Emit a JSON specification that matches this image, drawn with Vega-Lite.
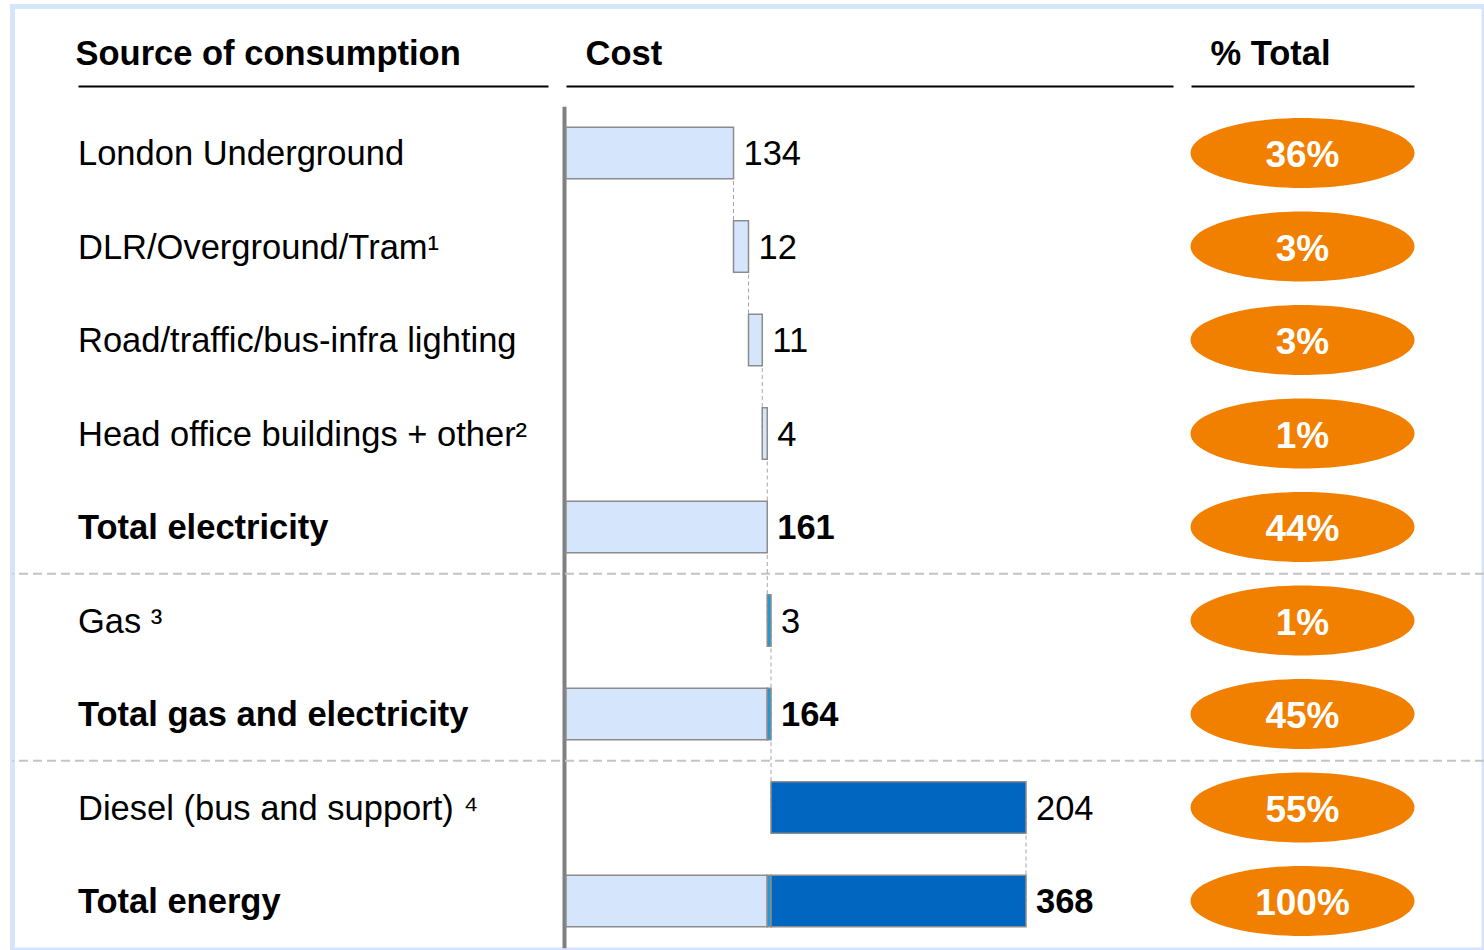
{
  "$schema": "https://vega.github.io/schema/vega-lite/v6.json",
  "width": 1471.5,
  "height": 943.5,
  "autosize": {"type": "none"},
  "padding": {"left": 12.5, "top": 6.5, "right": 0, "bottom": 0},
  "background": "white",
  "config": {
    "font": "Liberation Sans",
    "view": {"stroke": "#d5e5fb", "strokeWidth": 5},
    "axisY": {"domainColor": "#808080", "domainWidth": 4, "ticks": false, "labels": false, "grid": false, "offset": -551.5},
    "axisX": {"domainColor": "#000000", "domainWidth": 2, "ticks": false, "labels": false, "grid": false, "offset": -79.5,
      "titleFontSize": 34.5, "titleFontWeight": "bold", "titleColor": "#000000", "titleFont": "Liberation Sans",
      "titleAnchor": "start", "titleAlign": "left", "titleBaseline": "alphabetic", "titlePadding": 22}
  },
  "datasets": {
    "rows": [
      {"item": "London Underground", "cost": 134, "end": 134, "pct": "36%", "total": false, "sep": false},
      {"item": "DLR/Overground/Tram¹", "cost": 12, "end": 146, "pct": "3%", "total": false, "sep": false},
      {"item": "Road/traffic/bus-infra lighting", "cost": 11, "end": 157, "pct": "3%", "total": false, "sep": false},
      {"item": "Head office buildings + other²", "cost": 4, "end": 161, "pct": "1%", "total": false, "sep": false},
      {"item": "Total electricity", "cost": 161, "end": 161, "pct": "44%", "total": true, "sep": true},
      {"item": "Gas ³", "cost": 3, "end": 164, "pct": "1%", "total": false, "sep": false},
      {"item": "Total gas and electricity", "cost": 164, "end": 164, "pct": "45%", "total": true, "sep": true},
      {"item": "Diesel (bus and support) ⁴", "cost": 204, "end": 368, "pct": "55%", "total": false, "sep": false},
      {"item": "Total energy", "cost": 368, "end": 368, "pct": "100%", "total": true, "sep": false}
    ],
    "segments": [
      {"item": "London Underground", "start": 0, "stop": 134, "fuel": "Electricity"},
      {"item": "DLR/Overground/Tram¹", "start": 134, "stop": 146, "fuel": "Electricity"},
      {"item": "Road/traffic/bus-infra lighting", "start": 146, "stop": 157, "fuel": "Electricity"},
      {"item": "Head office buildings + other²", "start": 157, "stop": 161, "fuel": "Electricity"},
      {"item": "Total electricity", "start": 0, "stop": 161, "fuel": "Electricity"},
      {"item": "Gas ³", "start": 161, "stop": 164, "fuel": "Gas"},
      {"item": "Total gas and electricity", "start": 0, "stop": 161, "fuel": "Electricity"},
      {"item": "Total gas and electricity", "start": 161, "stop": 164, "fuel": "Gas"},
      {"item": "Diesel (bus and support) ⁴", "start": 164, "stop": 368, "fuel": "Diesel"},
      {"item": "Total energy", "start": 0, "stop": 161, "fuel": "Electricity"},
      {"item": "Total energy", "start": 161, "stop": 164, "fuel": "Gas"},
      {"item": "Total energy", "start": 164, "stop": 368, "fuel": "Diesel"}
    ],
    "connectors": [
      {"from": "London Underground", "to": "DLR/Overground/Tram¹", "at": 134},
      {"from": "DLR/Overground/Tram¹", "to": "Road/traffic/bus-infra lighting", "at": 146},
      {"from": "Road/traffic/bus-infra lighting", "to": "Head office buildings + other²", "at": 157},
      {"from": "Head office buildings + other²", "to": "Total electricity", "at": 161},
      {"from": "Total electricity", "to": "Gas ³", "at": 161},
      {"from": "Gas ³", "to": "Total gas and electricity", "at": 164},
      {"from": "Total gas and electricity", "to": "Diesel (bus and support) ⁴", "at": 164},
      {"from": "Diesel (bus and support) ⁴", "to": "Total energy", "at": 368}
    ]
  },
  "resolve": {"scale": {"x": "independent"}},
  "layer": [
    {
      "data": {"name": "rows"},
      "transform": [{"filter": "datum.sep"}],
      "mark": {"type": "rule", "color": "#c4c4c4", "strokeWidth": 2, "strokeDash": [9, 5]},
      "encoding": {
        "y": {"field": "item", "type": "nominal", "bandPosition": 1, "title": null,
          "scale": {"domain": ["London Underground", "DLR/Overground/Tram¹", "Road/traffic/bus-infra lighting", "Head office buildings + other²", "Total electricity", "Gas ³", "Total gas and electricity", "Diesel (bus and support) ⁴", "Total energy"], "range": [99.75, 941.25], "paddingInner": 0, "paddingOuter": 0}}
      }
    },
    {
      "data": {"name": "rows"},
      "transform": [{"filter": "!datum.total"}],
      "mark": {"type": "text", "align": "left", "baseline": "middle", "fontSize": 34.5, "dy": 2, "color": "#000000"},
      "encoding": {
        "x": {"datum": 0, "type": "quantitative", "scale": {"domain": [0, 1], "range": [65.5, 535.5], "nice": false, "zero": false},
          "axis": {"orient": "top", "title": "Source of consumption", "titleX": 62.5}},
        "y": {"field": "item", "type": "nominal", "title": null},
        "text": {"field": "item"}
      }
    },
    {
      "data": {"name": "rows"},
      "transform": [{"filter": "datum.total"}],
      "mark": {"type": "text", "align": "left", "baseline": "middle", "fontSize": 34.5, "dy": 2, "fontWeight": "bold", "color": "#000000"},
      "encoding": {
        "x": {"datum": 0, "type": "quantitative", "scale": {"domain": [0, 1], "range": [65.5, 535.5], "nice": false, "zero": false}, "axis": null},
        "y": {"field": "item", "type": "nominal", "title": null},
        "text": {"field": "item"}
      }
    },
    {
      "data": {"name": "connectors"},
      "mark": {"type": "rule", "color": "#a6a6a6", "strokeWidth": 1, "strokeDash": [4, 3]},
      "encoding": {
        "x": {"field": "at", "type": "quantitative", "scale": {"domain": [0, 485.6], "range": [553.5, 1160.5], "nice": false, "zero": false}, "axis": null},
        "y": {"field": "from", "type": "nominal", "title": null},
        "y2": {"field": "to"}
      }
    },
    {
      "data": {"name": "segments"},
      "mark": {"type": "bar", "height": {"band": 0.55}, "stroke": "#8c8c8c", "strokeWidth": 1.5},
      "encoding": {
        "x": {"field": "start", "type": "quantitative", "scale": {"domain": [0, 485.6], "range": [553.5, 1160.5], "nice": false, "zero": false},
          "axis": {"orient": "top", "title": "Cost", "titleX": 572.5}},
        "x2": {"field": "stop"},
        "y": {"field": "item", "type": "nominal", "title": null},
        "fill": {"field": "fuel", "type": "nominal", "legend": null,
          "scale": {"domain": ["Electricity", "Gas", "Diesel"], "range": ["#d5e6fc", "#1e9bd7", "#0066c0"]}}
      }
    },
    {
      "data": {"name": "rows"},
      "transform": [{"filter": "!datum.total"}],
      "mark": {"type": "text", "align": "left", "baseline": "middle", "fontSize": 34.5, "dx": 10, "dy": 2, "color": "#000000"},
      "encoding": {
        "x": {"field": "end", "type": "quantitative", "scale": {"domain": [0, 485.6], "range": [553.5, 1160.5], "nice": false, "zero": false}, "axis": null},
        "y": {"field": "item", "type": "nominal", "title": null},
        "text": {"field": "cost"}
      }
    },
    {
      "data": {"name": "rows"},
      "transform": [{"filter": "datum.total"}],
      "mark": {"type": "text", "align": "left", "baseline": "middle", "fontSize": 34.5, "fontWeight": "bold", "dx": 10, "dy": 2, "color": "#000000"},
      "encoding": {
        "x": {"field": "end", "type": "quantitative", "scale": {"domain": [0, 485.6], "range": [553.5, 1160.5], "nice": false, "zero": false}, "axis": null},
        "y": {"field": "item", "type": "nominal", "title": null},
        "text": {"field": "cost"}
      }
    },
    {
      "data": {"name": "rows"},
      "mark": {"type": "point", "filled": true, "opacity": 1, "color": "#f28000", "strokeWidth": 0, "size": 50176,
        "shape": "M-1,0A1,0.3125,0,1,1,1,0A1,0.3125,0,1,1,-1,0Z"},
      "encoding": {
        "x": {"datum": 0.5, "type": "quantitative", "scale": {"domain": [0, 1], "range": [1178.5, 1401.5], "nice": false, "zero": false},
          "axis": {"orient": "top", "title": "% Total", "titleX": 1197.5}},
        "y": {"field": "item", "type": "nominal", "title": null}
      }
    },
    {
      "data": {"name": "rows"},
      "mark": {"type": "text", "align": "center", "baseline": "middle", "fontSize": 37, "fontWeight": "bold", "dy": 3, "color": "#ffffff"},
      "encoding": {
        "x": {"datum": 0.5, "type": "quantitative", "scale": {"domain": [0, 1], "range": [1178.5, 1401.5], "nice": false, "zero": false}, "axis": null},
        "y": {"field": "item", "type": "nominal", "title": null},
        "text": {"field": "pct"}
      }
    }
  ]
}
